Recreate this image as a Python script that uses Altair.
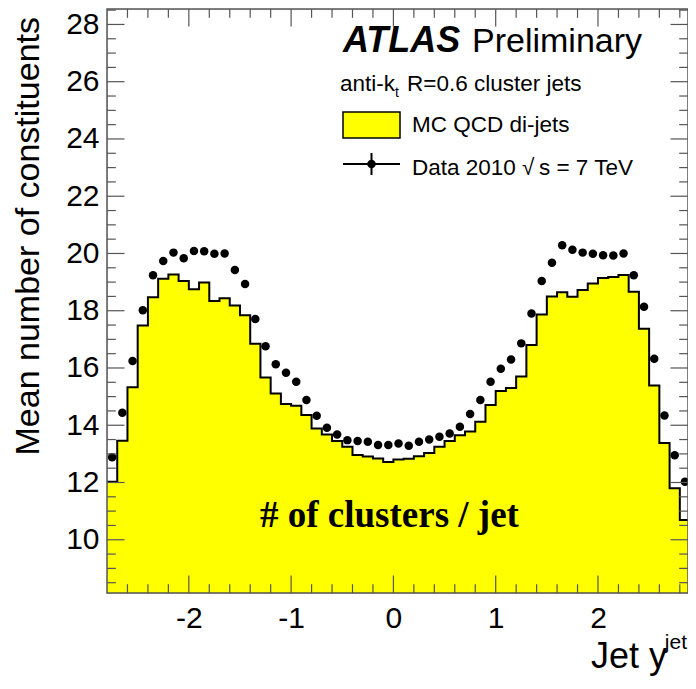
import altair as alt
import pandas as pd

# ---------------- data ----------------
bin_edges = [-2.8, -2.7, -2.6, -2.5, -2.4, -2.3, -2.2, -2.1, -2.0, -1.9,
             -1.8, -1.7, -1.6, -1.5, -1.4, -1.3, -1.2, -1.1, -1.0, -0.9,
             -0.8, -0.7, -0.6, -0.5, -0.4, -0.3, -0.2, -0.1, 0.0, 0.1,
             0.2, 0.3, 0.4, 0.5, 0.6, 0.7, 0.8, 0.9, 1.0, 1.1,
             1.2, 1.3, 1.4, 1.5, 1.6, 1.7, 1.8, 1.9, 2.0, 2.1,
             2.2, 2.3, 2.4, 2.5, 2.6, 2.7, 2.8, 2.9]

mc_qcd = [12.03, 13.46, 15.33, 17.48, 18.47, 19.12, 19.27, 19.04, 18.75, 18.99,
          18.34, 18.44, 18.18, 17.84, 16.85, 15.67, 15.11, 14.74, 14.68, 14.36,
          13.89, 13.68, 13.45, 13.25, 12.96, 12.91, 12.84, 12.72, 12.80, 12.83,
          12.92, 13.03, 13.25, 13.45, 13.65, 13.78, 14.12, 14.71, 15.20, 15.30,
          15.70, 16.80, 17.87, 18.50, 18.65, 18.49, 18.72, 18.95, 19.14, 19.18,
          19.25, 18.66, 17.37, 15.39, 13.38, 11.80, 10.69]

data_2010 = [12.88, 14.44, 16.24, 18.02, 19.24, 19.74, 20.03, 19.83, 20.09, 20.08,
             19.99, 20.00, 19.42, 18.93, 17.71, 16.76, 16.13, 15.83, 15.52, 14.88,
             14.33, 13.91, 13.68, 13.48, 13.45, 13.42, 13.31, 13.31, 13.36, 13.28,
             13.42, 13.50, 13.60, 13.71, 13.95, 14.39, 14.88, 15.52, 15.97, 16.30,
             16.86, 17.90, 19.04, 19.68, 20.29, 20.13, 20.03, 19.99, 19.94, 19.93,
             20.00, 19.24, 18.14, 16.32, 14.34, 12.95, 12.03]

x_major = [-2, -1, 0, 1, 2]
x_minor = [-2.6, -2.4, -2.2, -1.8, -1.6, -1.4, -1.2, -0.8, -0.6, -0.4, -0.2,
           0.2, 0.4, 0.6, 0.8, 1.2, 1.4, 1.6, 1.8, 2.2, 2.4, 2.6, 2.8]
y_major = [10, 12, 14, 16, 18, 20, 22, 24, 26, 28]
y_minor = [8.5, 9, 9.5, 10.5, 11, 11.5, 12.5, 13, 13.5, 14.5, 15, 15.5,
           16.5, 17, 17.5, 18.5, 19, 19.5, 20.5, 21, 21.5, 22.5, 23, 23.5,
           24.5, 25, 25.5, 26.5, 27, 27.5, 28.5]

XMIN, XMAX = -2.8, 2.88
YMIN, YMAX = 8.14, 28.54
W, H = 581, 584
FRAME = "#555555"
SANS = "Liberation Sans"

# ---------------- tables ----------------
df_step = pd.DataFrame({"x": bin_edges, "y": mc_qcd + [mc_qcd[-1]]})
centers = [(a + b) / 2 for a, b in zip(bin_edges[:-1], bin_edges[1:])]
df_pts = pd.DataFrame({"x": centers, "y": data_2010})

xs = alt.Scale(domain=[XMIN, XMAX], nice=False, zero=False)
ys = alt.Scale(domain=[YMIN, YMAX], nice=False, zero=False)

x_axis = alt.Axis(values=x_major, labelExpr="datum.value + ''", ticks=False,
                  domain=False, grid=False, labelFontSize=30, labelFont=SANS,
                  labelColor="black", labelPadding=10, title=None)
y_axis = alt.Axis(values=y_major, labelExpr="datum.value + ''", ticks=False,
                  domain=False, grid=False, labelFontSize=30, labelFont=SANS,
                  labelColor="black", labelPadding=8, title=None)

X = alt.X("x:Q", scale=xs, axis=x_axis)
Y = alt.Y("y:Q", scale=ys, axis=y_axis)

area = alt.Chart(df_step).mark_area(interpolate="step-after", color="#ffff00",
                                     opacity=1, clip=True).encode(x=X, y=Y, y2=alt.value(H))
outline = alt.Chart(df_step).mark_line(interpolate="step-after", color="black",
                                       strokeWidth=2, clip=True).encode(x=X, y=Y)
points = alt.Chart(df_pts).mark_circle(size=72, color="black", opacity=1,
                                       clip=True).encode(x=X, y=Y)

# tick marks (inside the frame, all four sides)
df_xM = pd.DataFrame({"x": x_major})
df_xm = pd.DataFrame({"x": x_minor})
df_yM = pd.DataFrame({"y": y_major})
df_ym = pd.DataFrame({"y": y_minor})
TM, Tm = 17.5, 8.8

def xticks(df, length):
    bot = alt.Chart(df).mark_rule(color=FRAME, strokeWidth=1.2).encode(
        x=X, y=alt.value(H), y2=alt.value(H - length))
    top = alt.Chart(df).mark_rule(color=FRAME, strokeWidth=1.2).encode(
        x=X, y=alt.value(0), y2=alt.value(length))
    return [bot, top]

def yticks(df, length):
    left = alt.Chart(df).mark_rule(color=FRAME, strokeWidth=1.2).encode(
        y=Y, x=alt.value(0), x2=alt.value(length))
    right = alt.Chart(df).mark_rule(color=FRAME, strokeWidth=1.2).encode(
        y=Y, x=alt.value(W), x2=alt.value(W - length))
    return [left, right]

ticks = xticks(df_xM, TM) + xticks(df_xm, Tm) + yticks(df_yM, TM) + yticks(df_ym, Tm)

one = pd.DataFrame({"a": [0]})
frame = alt.Chart(one).mark_rect(filled=False, stroke=FRAME, strokeWidth=1.5).encode(
    x=alt.value(0), x2=alt.value(W), y=alt.value(0), y2=alt.value(H))

def txt(s, x, y, size, font=SANS, align="left", **kw):
    return alt.Chart(pd.DataFrame({"t": [s]})).mark_text(
        align=align, baseline="alphabetic", fontSize=size, font=font,
        color="black", **kw).encode(text="t:N", x=alt.value(x), y=alt.value(y))

texts = [
    txt("ATLAS", 236, 43, 36, fontWeight="bold", fontStyle="italic"),
    txt("Preliminary", 365, 43, 34),
    txt("anti-k", 233, 82, 22.5),
    txt("t", 288, 88, 14),
    txt("R=0.6 cluster jets", 300, 82, 22.5),
    txt("MC QCD di-jets", 305, 123, 22.5),
    txt("Data 2010 \u221a\u2009s = 7 TeV", 305, 166, 22.5),
    txt("# of clusters / jet", 153, 518, 37, font="Liberation Serif", fontWeight="bold"),
    txt("jet", 580, 640, 21, align="right"),
    txt("Jet y", 560, 659, 36, align="right"),
    alt.Chart(pd.DataFrame({"t": ["Mean number of constituents"]})).mark_text(
        angle=270, align="right", baseline="middle", fontSize=34, font=SANS,
        color="black").encode(text="t:N", x=alt.value(-78), y=alt.value(8)),
]

# legend symbols
leg_box = alt.Chart(one).mark_rect(color="#ffff00", stroke="black", strokeWidth=1.5).encode(
    x=alt.value(236), x2=alt.value(293), y=alt.value(103), y2=alt.value(129))
leg_line = alt.Chart(one).mark_rule(color="black", strokeWidth=2).encode(
    x=alt.value(236), x2=alt.value(293), y=alt.value(155))
leg_err = alt.Chart(one).mark_rule(color="black", strokeWidth=2).encode(
    x=alt.value(264.5), y=alt.value(144), y2=alt.value(166))
leg_dot = alt.Chart(one).mark_circle(size=72, color="black", opacity=1).encode(
    x=alt.value(264.5), y=alt.value(155))

chart = alt.layer(area, outline, points, *ticks, frame, leg_box, leg_line, leg_err,
                  leg_dot, *texts).properties(
    width=W, height=H,
    padding={"left": 99, "top": 1, "right": 0, "bottom": 83},
    autosize=alt.AutoSizeParams(type="none"),
).configure_view(stroke=None).configure(background="white")

chart.save("out.html", embed_options={"renderer": "svg", "actions": False})
